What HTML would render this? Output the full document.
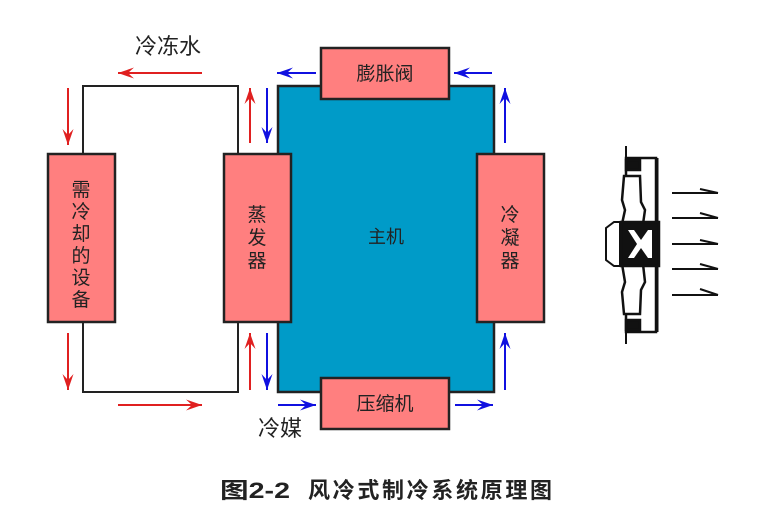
<!DOCTYPE html>
<html><head><meta charset="utf-8"><style>
html,body{margin:0;padding:0;background:#fff;}
svg{display:block;}
text{font-family:"Liberation Sans","Noto Sans CJK SC",sans-serif;fill:#222;}
</style></head><body>
<svg width="770" height="516" viewBox="0 0 770 516" xmlns="http://www.w3.org/2000/svg">
<defs>
<marker id="r" markerUnits="userSpaceOnUse" markerWidth="18" markerHeight="12" refX="16" refY="5.5" orient="auto"><path d="M0,0 L16,5.5 L0,11 L6,5.5z" fill="#e02020"/></marker>
<marker id="b" markerUnits="userSpaceOnUse" markerWidth="18" markerHeight="12" refX="16" refY="5.5" orient="auto"><path d="M0,0 L16,5.5 L0,11 L6,5.5z" fill="#1010e0"/></marker>
</defs>
<polyline points="83,154 83,86 238,86 238,154" fill="none" stroke="#222" stroke-width="2"/>
<polyline points="83,322 83,392 238,392 238,322" fill="none" stroke="#222" stroke-width="2"/>
<rect x="278" y="86" width="216" height="306" fill="#009bc8" stroke="#222" stroke-width="2.5"/>
<rect x="48" y="154" width="67" height="168" fill="#ff7f7f" stroke="#222" stroke-width="2.5"/>
<rect x="224" y="154" width="67" height="168" fill="#ff7f7f" stroke="#222" stroke-width="2.5"/>
<rect x="477" y="154" width="67" height="168" fill="#ff7f7f" stroke="#222" stroke-width="2.5"/>
<rect x="321" y="48" width="128" height="51" fill="#ff7f7f" stroke="#222" stroke-width="2.5"/>
<rect x="321" y="378" width="128" height="51" fill="#ff7f7f" stroke="#222" stroke-width="2.5"/>
<text x="385" y="80" font-size="19" text-anchor="middle">膨胀阀</text>
<text x="385" y="410" font-size="19" text-anchor="middle">压缩机</text>
<text x="386" y="243" font-size="18" text-anchor="middle">主机</text>
<text x="168" y="54" font-size="22" text-anchor="middle">冷冻水</text>
<text x="280" y="436" font-size="22" text-anchor="middle">冷媒</text>
<g font-size="19" text-anchor="middle">
<text x="81" y="196">需</text><text x="81" y="218">冷</text><text x="81" y="240">却</text><text x="81" y="262">的</text><text x="81" y="284">设</text><text x="81" y="306">备</text>
<text x="257" y="221">蒸</text><text x="257" y="244">发</text><text x="257" y="267">器</text>
<text x="510" y="221">冷</text><text x="510" y="244">凝</text><text x="510" y="267">器</text>
</g>
<g stroke="#e02020" stroke-width="2" fill="none">
<line x1="202" y1="73" x2="118" y2="73" marker-end="url(#r)"/>
<line x1="118" y1="405" x2="202" y2="405" marker-end="url(#r)"/>
<line x1="68" y1="88" x2="68" y2="145" marker-end="url(#r)"/>
<line x1="68" y1="333" x2="68" y2="390" marker-end="url(#r)"/>
<line x1="250" y1="143" x2="250" y2="88" marker-end="url(#r)"/>
<line x1="250" y1="390" x2="250" y2="333" marker-end="url(#r)"/>
</g>
<g stroke="#1010e0" stroke-width="2" fill="none">
<line x1="267" y1="88" x2="267" y2="143" marker-end="url(#b)"/>
<line x1="267" y1="333" x2="267" y2="390" marker-end="url(#b)"/>
<line x1="316" y1="73" x2="277" y2="73" marker-end="url(#b)"/>
<line x1="492" y1="73" x2="454" y2="73" marker-end="url(#b)"/>
<line x1="505" y1="143" x2="505" y2="88" marker-end="url(#b)"/>
<line x1="505" y1="390" x2="505" y2="333" marker-end="url(#b)"/>
<line x1="278" y1="405" x2="316" y2="405" marker-end="url(#b)"/>
<line x1="455" y1="405" x2="493" y2="405" marker-end="url(#b)"/>
</g>
<!-- fan -->
<g fill="#fff" stroke="#111" stroke-width="2.5">
<rect x="626" y="158" width="30" height="174" fill="none"/>
<line x1="657" y1="158" x2="657" y2="332" stroke-width="3"/>
<rect x="626" y="160" width="14" height="10" fill="#111"/>
<rect x="626" y="320" width="14" height="10" fill="#111"/>
<path d="M624,176 L640,176 L641,202 L645,210 L643,224 L622,224 L625,210 L622,200z"/>
<path d="M624,314 L640,314 L641,290 L645,282 L643,264 L622,264 L625,282 L622,292z"/>
<rect x="621" y="222" width="38" height="44" fill="#111"/>
<path d="M606,228 L614,222 L620,222 L620,266 L614,266 L606,260z" stroke-width="2"/>
<path d="M628,230 L637,244 L628,258 L634,258 L641,248 L648,258 L652,258 L652,230 L648,230 L641,240 L634,230z" stroke="none"/>
<line x1="626" y1="146" x2="626" y2="158" stroke-width="2"/>
<line x1="626" y1="332" x2="626" y2="344" stroke-width="2"/>
</g>
<g stroke="#111" stroke-width="2">
<line x1="672" y1="193" x2="718" y2="193"/><line x1="700" y1="189" x2="718" y2="193"/>
<line x1="672" y1="218" x2="718" y2="218"/><line x1="700" y1="213" x2="718" y2="218"/>
<line x1="672" y1="244" x2="718" y2="244"/><line x1="700" y1="240" x2="718" y2="244"/>
<line x1="672" y1="269" x2="718" y2="269"/><line x1="700" y1="264" x2="718" y2="269"/>
<line x1="672" y1="295" x2="718" y2="295"/><line x1="700" y1="289" x2="718" y2="295"/>
</g>
<g font-size="22" font-weight="bold" style="font-family:'Liberation Sans','WenQuanYi Zen Hei','Noto Sans CJK SC',sans-serif">
<text x="220" y="498" fill="#111" textLength="70" lengthAdjust="spacingAndGlyphs">图2-2</text>
<text x="308" y="498" fill="#111" textLength="244" lengthAdjust="spacing">风冷式制冷系统原理图</text>
</g>
</svg>
</body></html>
